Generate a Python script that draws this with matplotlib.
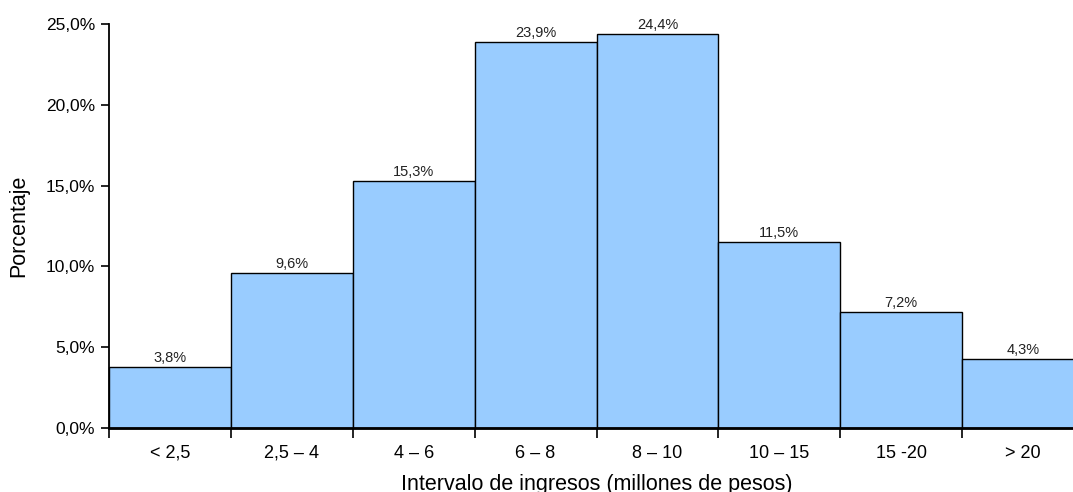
import matplotlib
matplotlib.use("Agg")
import matplotlib.pyplot as plt
from matplotlib.ticker import FixedLocator, FuncFormatter

plt.rcParams['font.family'] = ['Liberation Sans', 'DejaVu Sans']

categories = ["< 2,5", "2,5 – 4", "4 – 6", "6 – 8", "8 – 10", "10 – 15", "15 -20", "> 20"]
percentages = [3.8, 9.6, 15.3, 23.9, 24.4, 11.5, 7.2, 4.3]
y_ticks = [0, 5, 10, 15, 20, 25]

fig = plt.figure(figsize=(10.73, 4.92), dpi=100)
ax = fig.add_axes([109 / 1073, 1 - 428 / 492, (1084 - 109) / 1073, (428 - 24) / 492])

n = len(categories)
positions = list(range(n))
ax.bar(positions, percentages, width=1.0, align='edge', color='#99CCFF',
       edgecolor='black', linewidth=1.0, clip_on=False)

for x, v in zip(positions, percentages):
    ax.text(x + 0.5, v + 0.12, f"{v:.1f}%".replace('.', ','), ha='center', va='bottom',
            fontsize=10.5, color='#222222')

ax.set_xlim(0, n)
ax.set_ylim(0, 25)

ax.xaxis.set_major_locator(FixedLocator([i for i in range(n + 1)]))
ax.xaxis.set_major_formatter(FuncFormatter(lambda v, p: ""))
ax.xaxis.set_minor_locator(FixedLocator([i + 0.5 for i in range(n)]))
ax.set_xticklabels(categories, minor=True)
ax.tick_params(axis='x', which='major', direction='out', length=7, width=1.2)
ax.tick_params(axis='x', which='minor', length=0, pad=12, labelsize=13)

ax.set_yticks(y_ticks)
ax.yaxis.set_major_formatter(FuncFormatter(lambda v, p: f"{v:.1f}%".replace('.', ',')))
ax.tick_params(axis='y', direction='out', length=6, width=1.2, labelsize=12.5, pad=4)

for s in ('top', 'right'):
    ax.spines[s].set_visible(False)
ax.spines['left'].set_linewidth(1.3)
ax.spines['bottom'].set_linewidth(2.0)

ax.set_xlabel("Intervalo de ingresos (millones de pesos)", fontsize=15.5, labelpad=9)
ax.set_ylabel("Porcentaje", fontsize=15.5, labelpad=12)

fig.savefig("out.png", dpi=100)
